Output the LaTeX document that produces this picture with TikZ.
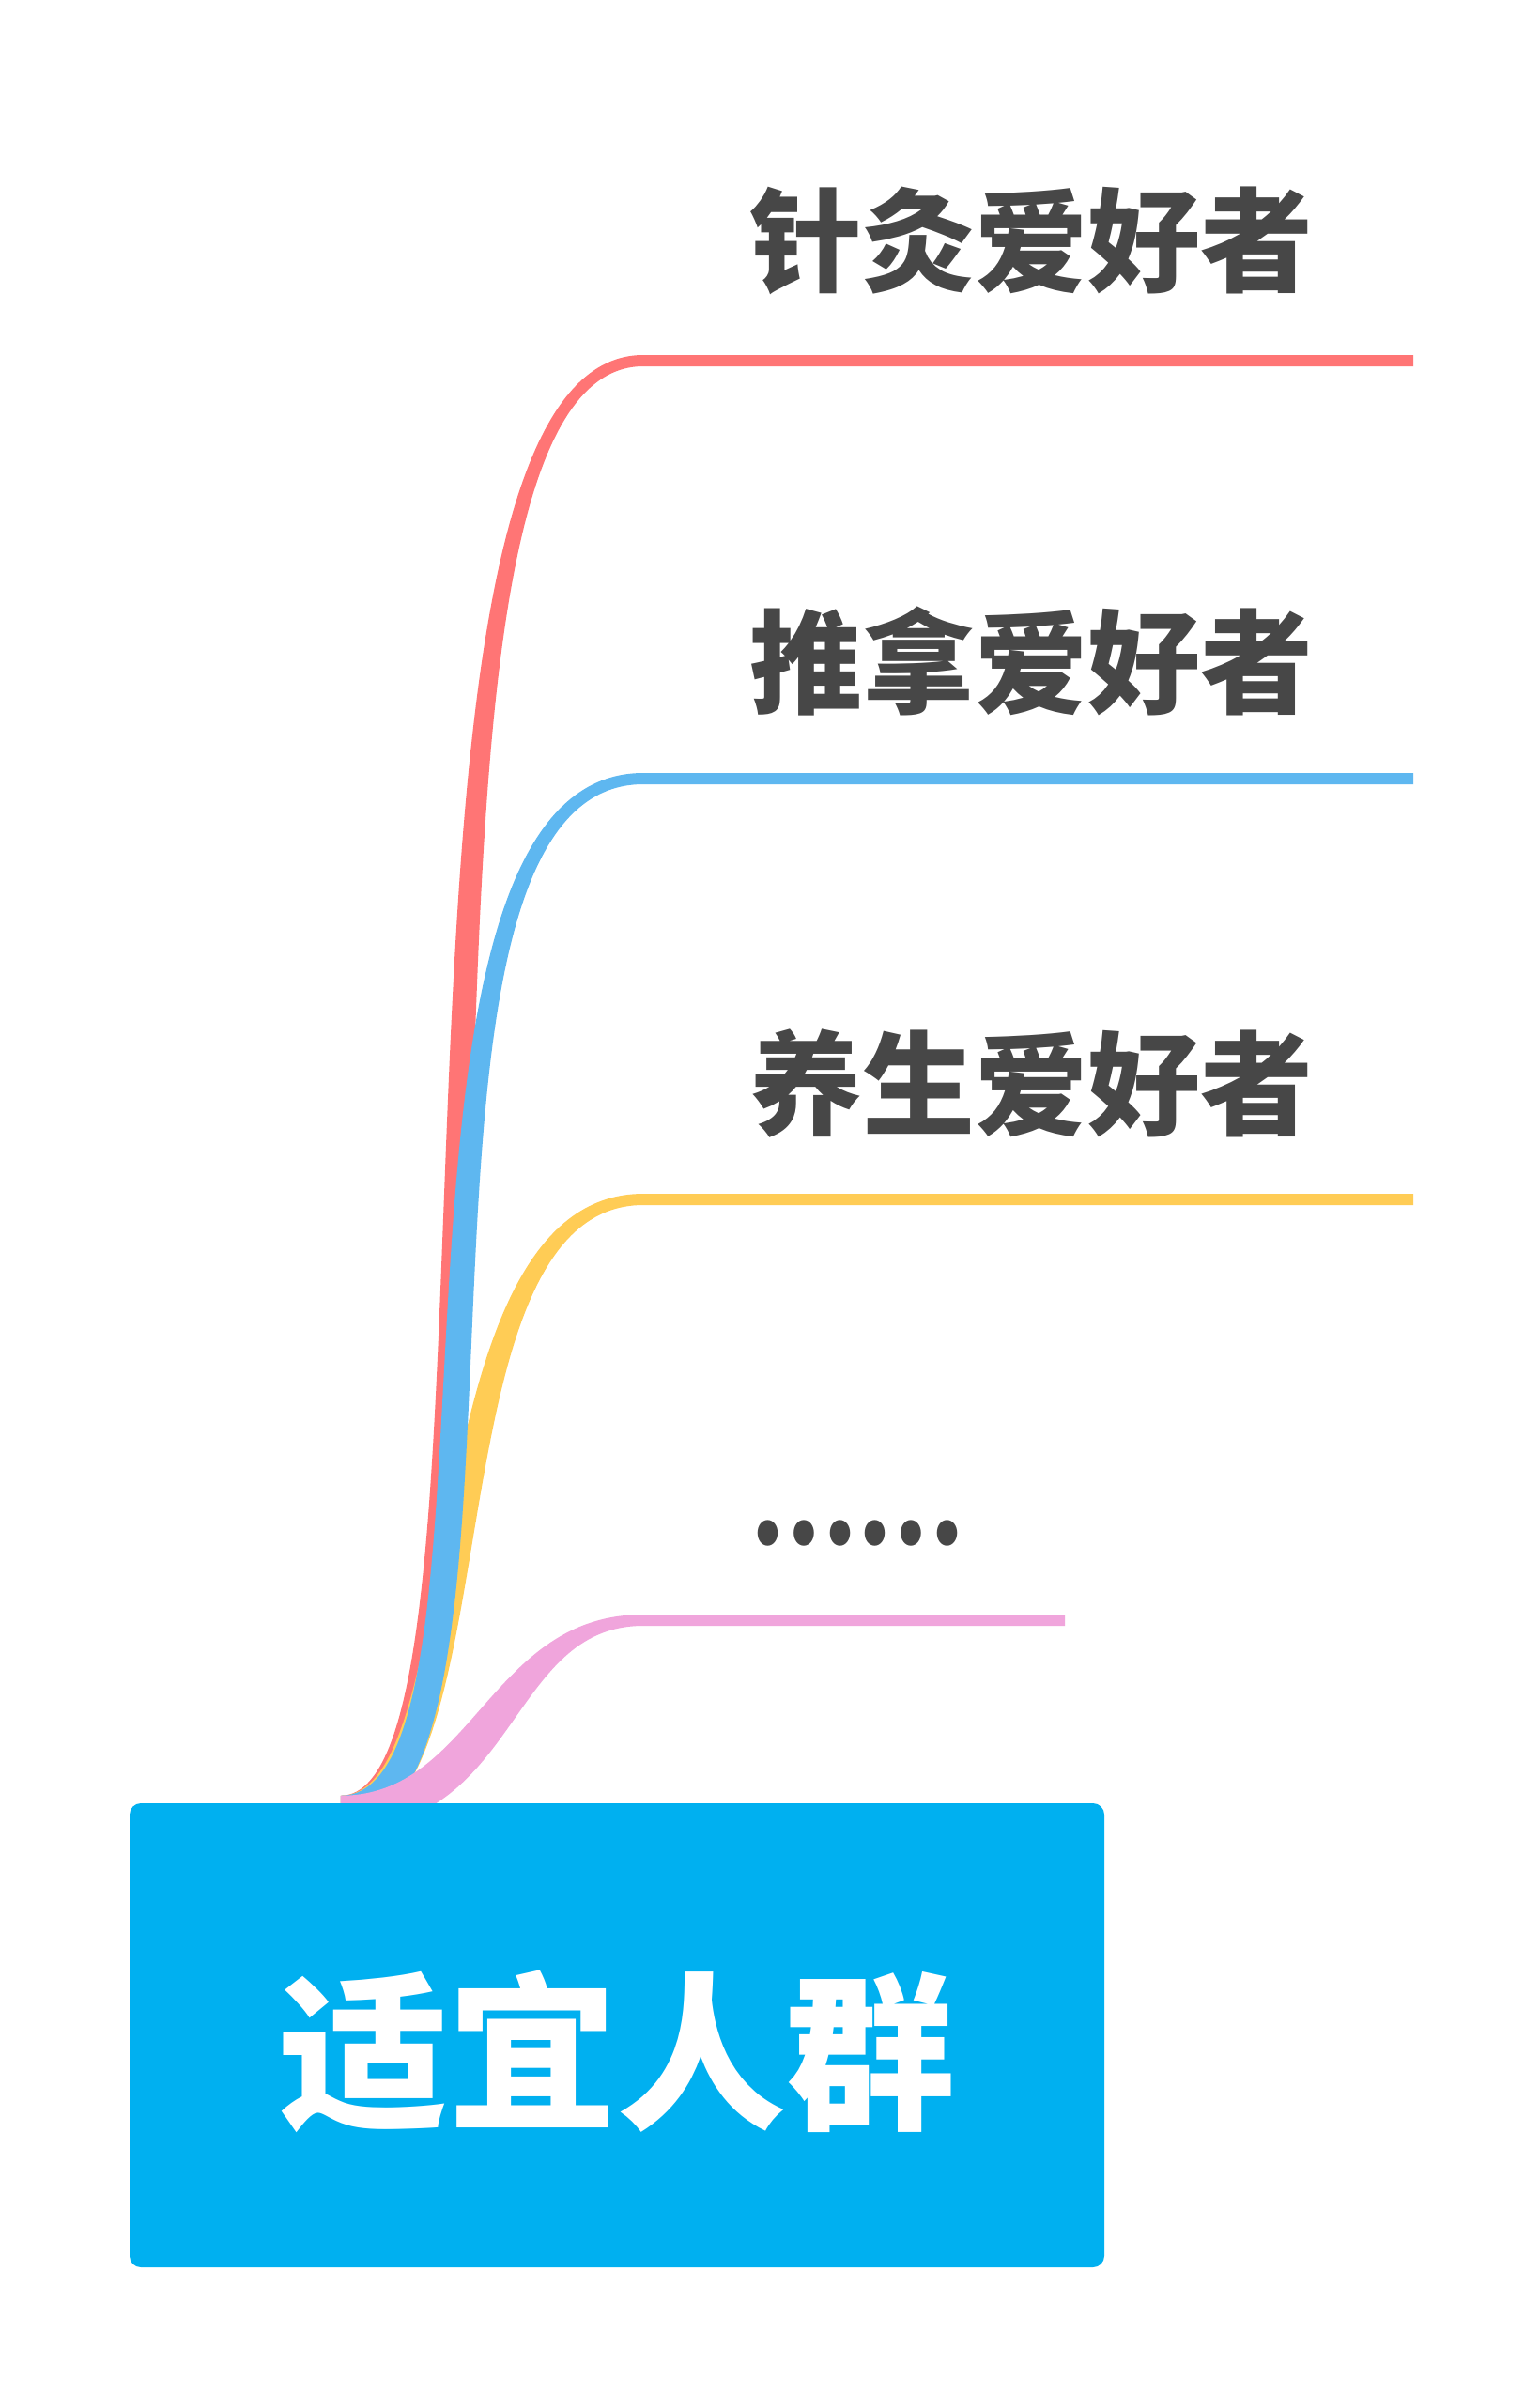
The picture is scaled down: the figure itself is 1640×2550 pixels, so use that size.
\documentclass[tikz,border=0pt]{standalone}
\usepackage{fontspec}
\usepackage{graphicx}
\newfontfamily\cjk{Noto Sans CJK SC}
\usetikzlibrary{calc,backgrounds}
\definecolor{cred}{HTML}{FF7575}
\definecolor{cblue}{HTML}{5EB7F0}
\definecolor{cyellow}{HTML}{FFCC55}
\definecolor{cpink}{HTML}{F0A5DC}
\definecolor{cbox}{HTML}{00B0F0}
\definecolor{ctext}{HTML}{474747}
\def\rootw{18}  % half width at root (vertical)
\def\tipw{6}    % half width at tip (vertical)
\def\rootm{25}  % horizontal offset of first control point
\def\tipm{9.2}  % horizontal offset of second control point
% #1 colour, #2 tip coordinate, #3 first control dx from root, #4 second control dx from tip, #5 end coordinate
\newcommand\branch[5]{%
  \fill[#1] ($(rootpt)+(0,-\rootw)$)
    .. controls ($(rootpt)+(#3-\rootm,-\rootw)$) and ($(#2)+(#4-\tipm,-\tipw)$) .. ($(#2)+(0,-\tipw)$)
    -- ($(#5)+(0,-\tipw)$) -- ($(#5)+(0,\tipw)$) -- ($(#2)+(0,\tipw)$)
    .. controls ($(#2)+(#4+\tipm,\tipw)$) and ($(rootpt)+(#3+\rootm,\rootw)$) .. ($(rootpt)+(0,\rootw)$)
    -- cycle;}
\begin{document}
\begin{tikzpicture}[x=1pt,y=-1pt,
  lbl/.style={anchor=west,inner sep=0pt,text=ctext,font=\cjk\bfseries\fontsize{120}{120}\selectfont},
  rootbox/.style={fill=cbox,rounded corners=12pt,minimum width=1038pt,minimum height=494pt,
    inner sep=0pt,text=white,font=\cjk\bfseries\fontsize{180}{180}\selectfont,
    text height=180pt,text depth=7pt}]
\useasboundingbox (0,0) rectangle (1640,2550);
\node[rootbox] (root) at (657,2167) {适宜人群};
\node[lbl] (l1) at (798,256) {针灸爱好者};
\node[lbl] (l2) at (798,704) {推拿爱好者};
\node[lbl] (l3) at (798,1154) {养生爱好者};
\node[lbl,font=\cjk\bfseries\fontsize{124}{124}\selectfont] (l4) at (798,1633) {\scalebox{0.82}[1]{……}};
\coordinate (rootpt) at ($(root.north west)+(225,10)$);
\coordinate (tip1) at (685,384);  \coordinate (end1) at (1505,384);
\coordinate (tip2) at (685,829);  \coordinate (end2) at (1505,829);
\coordinate (tip3) at (685,1277); \coordinate (end3) at (1505,1277);
\coordinate (tip4) at (685,1725); \coordinate (end4) at (1134,1725);
\begin{scope}[on background layer]
  \fill[white] (0,0) rectangle (1640,2550);
  \branch{cred}{tip1}{220}{-308}{end1}
  \branch{cyellow}{tip3}{163}{-241}{end3}
  \branch{cblue}{tip2}{220}{-308}{end2}
  \branch{cpink}{tip4}{166}{-154}{end4}
\end{scope}
\end{tikzpicture}
\end{document}
